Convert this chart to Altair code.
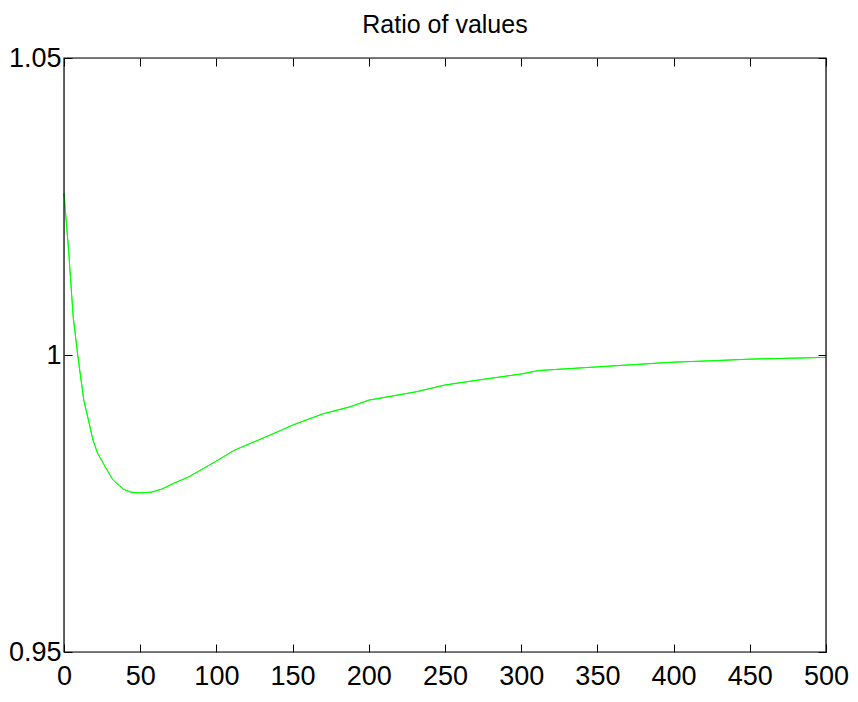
import altair as alt
import pandas as pd

# Data
x_vals = [0, 3, 6, 9, 13, 16, 19, 22, 27, 32, 39, 44, 50, 57, 64, 72, 82, 99,
          112, 125, 144, 150, 170, 188, 200, 231, 250, 275, 300, 312, 350, 400,
          422, 450, 500]
y_vals = [1.0272, 1.0177, 1.0065, 1.0000, 0.9924, 0.9891, 0.9857, 0.9835,
          0.9812, 0.9790, 0.9774, 0.9769, 0.9768, 0.9769, 0.9774, 0.9784,
          0.9795, 0.9820, 0.9840, 0.9854, 0.9875, 0.9882, 0.9901, 0.9913,
          0.9924, 0.9938, 0.99495, 0.9959, 0.9968, 0.9974, 0.9980, 0.9988,
          0.9990, 0.9993, 0.9996]
x_ticks = [0, 50, 100, 150, 200, 250, 300, 350, 400, 450, 500]
y_ticks = [0.95, 1.0, 1.05]
x_domain = [0, 500]
y_domain = [0.95, 1.05]
title_text = "Ratio of values"

df = pd.DataFrame({"x": x_vals, "y": y_vals})
frame_df = pd.DataFrame({"x": [x_domain[0]], "x2": [x_domain[1]],
                         "y": [y_domain[0]], "y2": [y_domain[1]]})

FONT = "Liberation Sans, Arial, sans-serif"
TICK = 8

xscale = alt.Scale(domain=x_domain, nice=False, zero=False)
yscale = alt.Scale(domain=y_domain, nice=False, zero=False)

common_axis = dict(grid=False, domain=False, tickSize=TICK, offset=-TICK,
                   tickColor="black", tickWidth=1,
                   labelFont=FONT, labelFontSize=27, labelColor="black",
                   title=None)

main = alt.Chart(df).mark_line(color="#00ff00", strokeWidth=1).encode(
    x=alt.X("x:Q", scale=xscale,
            axis=alt.Axis(orient="bottom", values=x_ticks, labelPadding=11,
                          labelFlush=False, **common_axis)),
    y=alt.Y("y:Q", scale=yscale,
            axis=alt.Axis(orient="left", values=y_ticks, format="~g",
                          labelPadding=3, labelFlush=False, **common_axis)),
)

mirror = alt.Chart(df).mark_line(color="#00ff00", strokeWidth=1).encode(
    x=alt.X("x:Q", scale=xscale,
            axis=alt.Axis(orient="top", values=x_ticks, labels=False, **common_axis)),
    y=alt.Y("y:Q", scale=yscale,
            axis=alt.Axis(orient="right", values=y_ticks, labels=False, **common_axis)),
)

frame = alt.Chart(frame_df).mark_rect(fill=None, stroke="black", strokeWidth=1.2).encode(
    x=alt.X("x:Q", scale=xscale, axis=None),
    x2="x2:Q",
    y=alt.Y("y:Q", scale=yscale, axis=None),
    y2="y2:Q",
)

chart = alt.layer(main, mirror, frame).resolve_axis(
    x="independent", y="independent"
).properties(
    width=762, height=594,
    title=alt.TitleParams(title_text, font=FONT, fontSize=25, fontWeight="normal",
                          color="black", anchor="middle", offset=6),
    autosize=alt.AutoSizeParams(type="none"),
    padding={"left": 64, "top": 58, "right": 32, "bottom": 50},
).configure_view(strokeWidth=0).configure(background="white")

chart.save("out.html", embed_options={"renderer": "svg", "actions": False})
